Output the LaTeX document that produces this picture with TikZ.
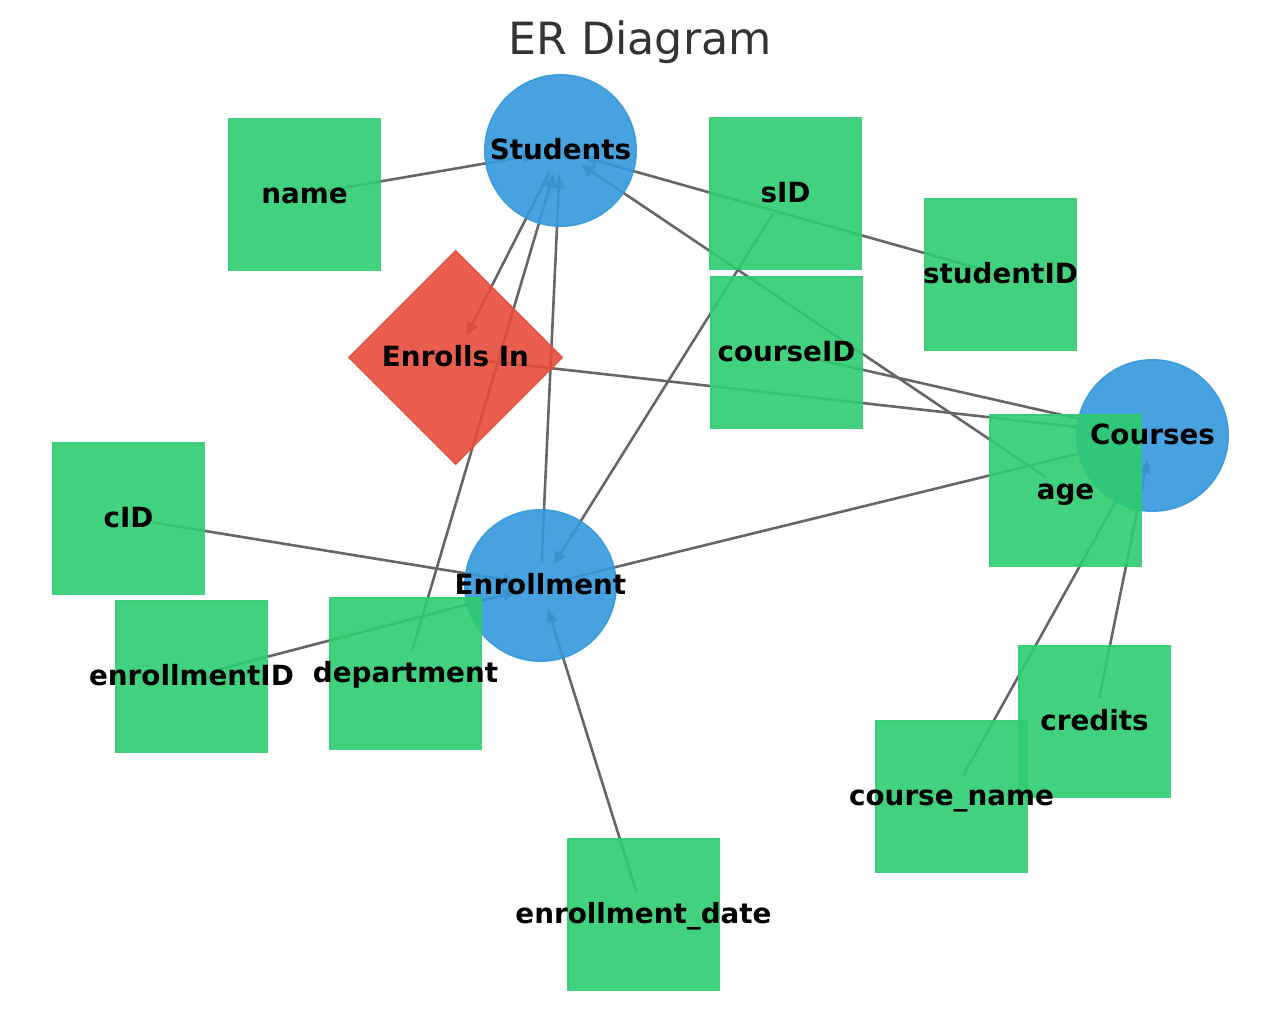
\documentclass[tikz,border=0pt]{standalone}
\usepackage{fontspec}
\setmainfont{DejaVu Sans}
\usetikzlibrary{arrows.meta,shapes.geometric,backgrounds}
\definecolor{ent}{HTML}{3498DB}
\definecolor{attr}{HTML}{2ECC71}
\definecolor{rel}{HTML}{E74C3C}
\definecolor{edgec}{HTML}{666666}
\definecolor{titlec}{HTML}{333333}
\begin{document}
\begin{tikzpicture}[x=1pt,y=-1pt,
  entity/.style={circle, fill=ent, draw=ent, opacity=0.9, minimum size=151.5pt, inner sep=0pt, line width=1.5pt},
  attrbox/.style={rectangle, fill=attr, draw=attr, opacity=0.9, minimum size=151.5pt, inner sep=0pt, line width=1.5pt},
  relbox/.style={diamond, fill=rel, draw=rel, opacity=0.9, minimum size=214pt, inner sep=0pt, line width=1.5pt},
  lbl/.style={anchor=base, font=\fontsize{27.8}{30}\selectfont\bfseries, text=black, inner sep=0pt},
  conn/.style={draw=edgec, line width=2.6pt, shorten <=24pt, shorten >=24pt, -{Triangle[length=14pt,width=11pt]}}
]
\useasboundingbox (0,0) rectangle (1280,1014);
\node[anchor=base, font=\fontsize{44.4}{50}\selectfont, text=titlec, inner sep=0pt] (title) at (640,55) {ER Diagram};
% entities
\node[entity] (students) at (560.5,150.5) {};
\node[entity] (enrollment) at (540.5,585.5) {};
\node[entity] (courses) at (1152.5,435.5) {};
% relationship
\node[relbox] (enrolls) at (455.5,357.5) {};
% attributes
\node[attrbox] (name) at (304.5,194.5) {};
\node[attrbox] (sid) at (785.5,193.5) {};
\node[attrbox] (studentid) at (1000.5,274.5) {};
\node[attrbox] (courseid) at (786.5,352.5) {};
\node[attrbox] (age) at (1065.5,490.5) {};
\node[attrbox] (cid) at (128.5,518.5) {};
\node[attrbox] (enrollmentid) at (191.5,676.5) {};
\node[attrbox] (department) at (405.5,673.5) {};
\node[attrbox] (credits) at (1094.5,721.5) {};
\node[attrbox] (coursename) at (951.5,796.5) {};
\node[attrbox] (enrollmentdate) at (643.5,914.5) {};
% edges
\begin{pgfonlayer}{background}
\draw[conn] (name.center) -- (students.center);
\draw[conn] (studentid.center) -- (students.center);
\draw[conn] (age.center) -- (students.center);
\draw[conn] (students.center) -- (enrolls.center);
\draw[conn] (department.center) -- (students.center);
\draw[conn] (enrollment.center) -- (students.center);
\draw[conn] (sid.center) -- (enrollment.center);
\draw[conn] (cid.center) -- (enrollment.center);
\draw[conn] (enrollmentid.center) -- (enrollment.center);
\draw[conn] (enrollmentdate.center) -- (enrollment.center);
\draw[conn] (coursename.center) -- (courses.center);
\draw[conn] (credits.center) -- (courses.center);
\draw[conn] (courseid.center) -- (courses.center);
\draw[conn] (enrolls.center) -- (courses.center);
\draw[conn] (enrollment.center) -- (courses.center);
\end{pgfonlayer}
% labels
\node[lbl] (students-l) at ([yshift=-9pt]students.center) {Students};
\node[lbl] (enrollment-l) at ([yshift=-9pt]enrollment.center) {Enrollment};
\node[lbl] (courses-l) at ([yshift=-9pt]courses.center) {Courses};
\node[lbl] (enrolls-l) at ([yshift=-9pt]enrolls.center) {Enrolls In};
\node[lbl] (name-l) at ([yshift=-9pt]name.center) {name};
\node[lbl] (sid-l) at ([yshift=-9pt]sid.center) {sID};
\node[lbl] (studentid-l) at ([yshift=-9pt]studentid.center) {studentID};
\node[lbl] (courseid-l) at ([yshift=-9pt]courseid.center) {courseID};
\node[lbl] (age-l) at ([yshift=-9pt]age.center) {age};
\node[lbl] (cid-l) at ([yshift=-9pt]cid.center) {cID};
\node[lbl] (enrollmentid-l) at ([yshift=-9pt]enrollmentid.center) {enrollmentID};
\node[lbl] (department-l) at ([yshift=-9pt]department.center) {department};
\node[lbl] (credits-l) at ([yshift=-9pt]credits.center) {credits};
\node[lbl] (coursename-l) at ([yshift=-9pt]coursename.center) {course\_name};
\node[lbl] (enrollmentdate-l) at ([yshift=-9pt]enrollmentdate.center) {enrollment\_date};
\end{tikzpicture}
\end{document}
